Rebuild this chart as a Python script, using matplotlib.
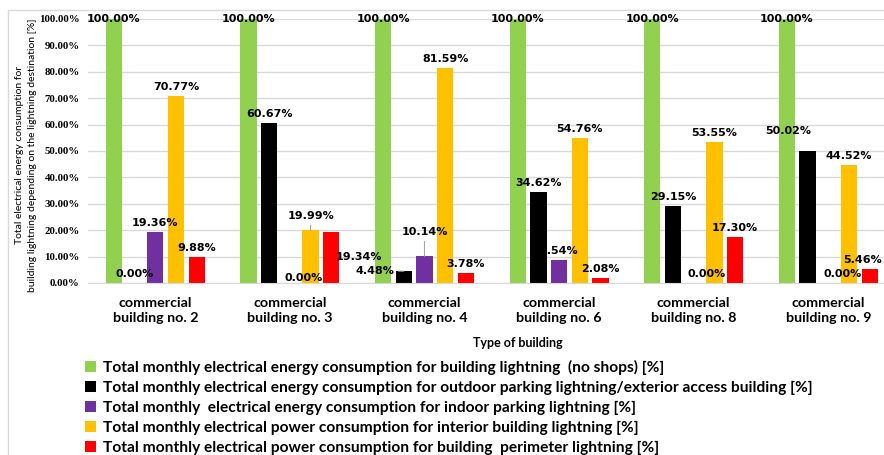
import matplotlib
matplotlib.use("Agg")
import matplotlib.pyplot as plt
from matplotlib.patches import Rectangle
import numpy as np

categories = ["commercial\nbuilding no. 2", "commercial\nbuilding no. 3", "commercial\nbuilding no. 4",
              "commercial\nbuilding no. 6", "commercial\nbuilding no. 8", "commercial\nbuilding no. 9"]
series_names = [
    "Total monthly electrical energy consumption for building lightning  (no shops) [%]",
    "Total monthly electrical energy consumption for outdoor parking lightning/exterior access building [%]",
    "Total monthly  electrical energy consumption for indoor parking lightning [%]",
    "Total monthly electrical power consumption for interior building lightning [%]",
    "Total monthly electrical power consumption for building  perimeter lightning [%]",
]
building_lighting = [100.00, 100.00, 100.00, 100.00, 100.00, 100.00]
outdoor_parking = [0.00, 60.67, 4.48, 34.62, 29.15, 50.02]
indoor_parking = [19.36, 0.00, 10.14, 8.54, 0.00, 0.00]
interior_lighting = [70.77, 19.99, 81.59, 54.76, 53.55, 44.52]
perimeter_lighting = [9.88, 19.34, 3.78, 2.08, 17.30, 5.46]
y_ticks = [0, 10, 20, 30, 40, 50, 60, 70, 80, 90, 100]

series = [building_lighting, outdoor_parking, indoor_parking, interior_lighting, perimeter_lighting]
colors = ["#92d050", "#000000", "#7030a0", "#ffc000", "#ff0000"]

W, H = 884, 455
fig = plt.figure(figsize=(W / 100, H / 100), dpi=100)

# outer chart border
fig.patches.append(Rectangle((8 / W, -0.05), 1.2, (455 - 10) / H + 0.05, transform=fig.transFigure,
                             fill=False, edgecolor="#d9d9d9", lw=1.0))

left, right, top, bottom = 88, 884, 19, 283
group_px = 134.6
ax = fig.add_axes([left / W, (H - bottom) / H, (right - left) / W, (bottom - top) / H])
ax.set_xlim(-0.5, -0.5 + (right - left) / group_px)
ax.set_ylim(0, 100)

pitch = 20.7 / group_px
width = 16.3 / group_px
x = np.arange(len(categories))
px2pt = 0.72

# label adjustments (dx, dy in pixels relative to default placement), keyed by (group, series)
adjust = {
    (1, 2): (14, -4),
    (1, 3): (0, 5),
    (1, 4): (28, -34),
    (2, 1): (-29, -9),
    (2, 2): (0, 15),
    (4, 2): (13, 0),
    (5, 2): (14, 0),
    (5, 1): (-19, 11),
    (5, 4): (-7, 0),
}
leaders = {(1, 3), (2, 1), (2, 2)}

handles = []
for i, (vals, c) in enumerate(zip(series, colors)):
    xs = x + (i - 2) * pitch
    b = ax.bar(xs, vals, width, color=c, zorder=2, label=series_names[i])
    handles.append(b)
    for g, (xx, v) in enumerate(zip(xs, vals)):
        dy = 0 if v >= 99.99 else 9
        dx = 0
        if (g, i) in adjust:
            ddx, ddy = adjust[(g, i)]
            dx += ddx
            dy += ddy
        kw = {}
        if (g, i) in leaders:
            kw["arrowprops"] = dict(arrowstyle="-", color="#a6a6a6", lw=0.8, shrinkA=1, shrinkB=0)
        ax.annotate(f"{v:.2f}%", xy=(xx, v), xytext=(dx * px2pt, dy * px2pt), textcoords="offset points",
                    ha="center", va="center", fontsize=8, fontweight="bold", family="DejaVu Sans",
                    color="#000000", zorder=5, annotation_clip=False, **kw)

ax.set_yticks(y_ticks)
ax.set_yticklabels([f"{t:.2f}%" for t in y_ticks], family="Liberation Serif", fontweight="bold", fontsize=7.8)
ax.set_xticks(x)
ax.set_xticklabels(categories, family="Lato", fontsize=10.3, fontweight="bold", linespacing=1.35)
ax.tick_params(axis="both", length=0)
ax.tick_params(axis="x", pad=10)
ax.tick_params(axis="y", pad=6)
ax.grid(axis="y", color="#d9d9d9", lw=1.0, zorder=0)
for s in ["top", "right", "left"]:
    ax.spines[s].set_visible(False)
ax.spines["bottom"].set_color("#d9d9d9")

fig.text(26 / W, 1 - 155 / H,
         "Total electrical energy consumption for\nbuilding lightning depending on the lightning destination [%]",
         rotation=90, ha="center", va="center", fontsize=7.5, family="Lato", linespacing=1.45)
fig.text(518 / W, 1 - 343 / H, "Type of building", ha="center", va="center", fontsize=9,
         family="Lato", fontweight="bold")

fig.legend(handles=handles, labels=series_names, loc="upper left", bbox_to_anchor=(85 / W, 1 - 360 / H),
           frameon=False, handlelength=0.7, handleheight=0.7, handletextpad=0.45,
           labelspacing=0.37, borderaxespad=0, borderpad=0,
           prop={"family": "Lato", "weight": "bold", "size": 11.2})

fig.savefig("out.png", dpi=100)
